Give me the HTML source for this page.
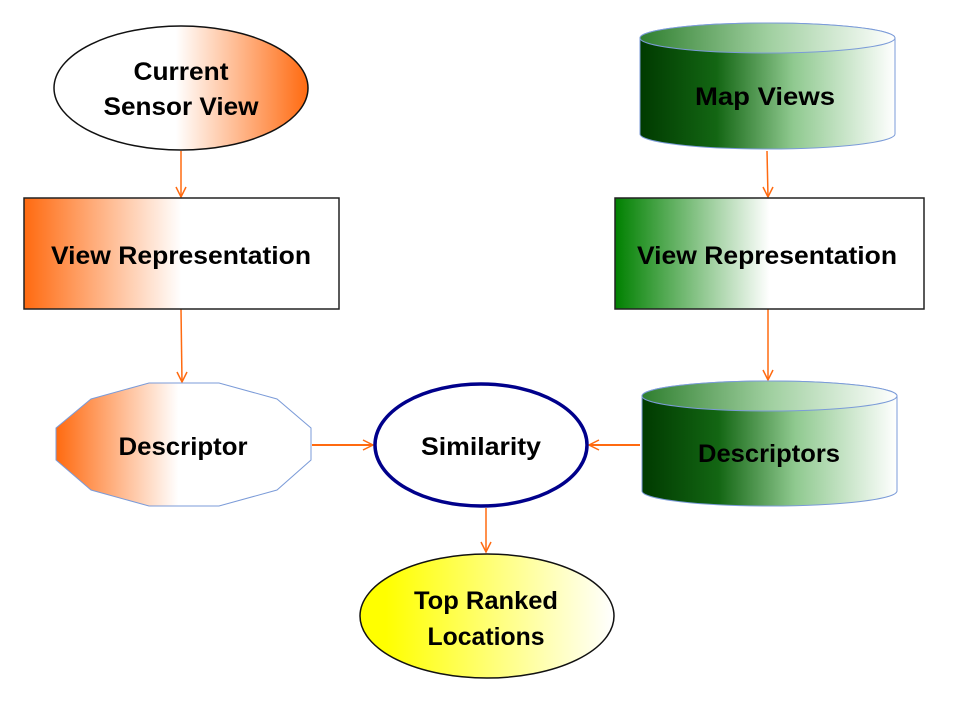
<!DOCTYPE html>
<html><head><meta charset="utf-8"><style>
html,body{margin:0;padding:0;background:#fff;}
svg{display:block;}
text{font-family:"Liberation Sans",sans-serif;font-weight:bold;font-size:25px;fill:#000;text-anchor:middle;dominant-baseline:central;}
</style></head><body>
<svg width="975" height="716" viewBox="0 0 975 716" xmlns="http://www.w3.org/2000/svg">
<defs>
<linearGradient id="oR" x1="0" x2="1" y1="0" y2="0"><stop offset="0.48" stop-color="#fff"/><stop offset="1" stop-color="#ff6a10"/></linearGradient>
<linearGradient id="oL" x1="0" x2="1" y1="0" y2="0"><stop offset="0" stop-color="#ff6a10"/><stop offset="0.5" stop-color="#fff"/></linearGradient>
<linearGradient id="oD" x1="0" x2="1" y1="0" y2="0"><stop offset="0" stop-color="#ff6a10"/><stop offset="0.48" stop-color="#fff"/></linearGradient>
<linearGradient id="gL" x1="0" x2="1" y1="0" y2="0"><stop offset="0" stop-color="#008000"/><stop offset="0.5" stop-color="#fff"/></linearGradient>
<linearGradient id="cy" x1="0" x2="1" y1="0" y2="0"><stop offset="0" stop-color="#003a00"/><stop offset="0.3" stop-color="#136613"/><stop offset="0.6" stop-color="#8fc98f"/><stop offset="1" stop-color="#fff"/></linearGradient>
<linearGradient id="cyt" x1="0" x2="1" y1="0" y2="0"><stop offset="0" stop-color="#2f7f2f"/><stop offset="0.5" stop-color="#9fcf9f"/><stop offset="1" stop-color="#fff"/></linearGradient>
<linearGradient id="yl" x1="0" x2="1" y1="0" y2="0"><stop offset="0.1" stop-color="#ffff00"/><stop offset="1" stop-color="#fff"/></linearGradient>
</defs>
<g stroke="#ff6a10" stroke-width="1.5" fill="none">
<line x1="181" y1="151" x2="181" y2="197"/><polyline points="176,187 181,197 186,187"/>
<line x1="181" y1="309" x2="182" y2="382"/><polyline points="177,372 182,382 187,372"/>
<line x1="767" y1="151" x2="768" y2="197"/><polyline points="763,187 768,197 773,187"/>
<line x1="768" y1="309" x2="768" y2="380"/><polyline points="763,370 768,380 773,370"/>
<line x1="312" y1="445" x2="373" y2="445" stroke-width="2"/><polyline points="363,440 373,445 363,450"/>
<line x1="640" y1="445" x2="589" y2="445" stroke-width="2"/><polyline points="599,440 589,445 599,450"/>
<line x1="486" y1="508" x2="486" y2="552"/><polyline points="481,542 486,552 491,542"/>
</g>
<ellipse cx="181" cy="88" rx="127" ry="62" fill="url(#oR)" stroke="#111" stroke-width="1.5"/>
<text x="181" y="72" textLength="95" lengthAdjust="spacingAndGlyphs">Current</text><text x="181" y="107" textLength="155" lengthAdjust="spacingAndGlyphs">Sensor View</text>
<rect x="24" y="198" width="315" height="111" fill="url(#oL)" stroke="#222" stroke-width="1.5"/>
<text x="181" y="256" textLength="260" lengthAdjust="spacingAndGlyphs">View Representation</text>
<rect x="615" y="198" width="309" height="111" fill="url(#gL)" stroke="#222" stroke-width="1.5"/>
<text x="767" y="256" textLength="260" lengthAdjust="spacingAndGlyphs">View Representation</text>
<path d="M640,38 L640,134 A127.5,15 0 0 0 895,134 L895,38 A127.5,15 0 0 0 640,38 Z" fill="url(#cy)" stroke="#7b9bd8" stroke-width="1"/>
<ellipse cx="767.5" cy="38" rx="127.5" ry="15" fill="url(#cyt)" stroke="#7b9bd8" stroke-width="1"/>
<text x="765" y="97" textLength="140" lengthAdjust="spacingAndGlyphs">Map Views</text>
<path d="M642,396 L642,491 A127.5,15 0 0 0 897,491 L897,396 A127.5,15 0 0 0 642,396 Z" fill="url(#cy)" stroke="#7b9bd8" stroke-width="1"/>
<ellipse cx="769.5" cy="396" rx="127.5" ry="15" fill="url(#cyt)" stroke="#7b9bd8" stroke-width="1"/>
<text x="769" y="454" textLength="142" lengthAdjust="spacingAndGlyphs">Descriptors</text>
<polygon points="149,383 219,383 277,399 311,428 311,460 277,490 219,506 149,506 91,490 56,460 56,428 91,399" fill="url(#oD)" stroke="#7b9bd8" stroke-width="1"/>
<text x="183" y="447" textLength="129" lengthAdjust="spacingAndGlyphs">Descriptor</text>
<ellipse cx="481" cy="445" rx="106" ry="61" fill="#fff" stroke="#00008b" stroke-width="3.5"/>
<text x="481" y="447" textLength="120" lengthAdjust="spacingAndGlyphs">Similarity</text>
<ellipse cx="487" cy="616" rx="127" ry="62" fill="url(#yl)" stroke="#111" stroke-width="1.5"/>
<text x="486" y="601" textLength="144" lengthAdjust="spacingAndGlyphs">Top Ranked</text>
<text x="486" y="637" textLength="117" lengthAdjust="spacingAndGlyphs">Locations</text>
</svg>
</body></html>
